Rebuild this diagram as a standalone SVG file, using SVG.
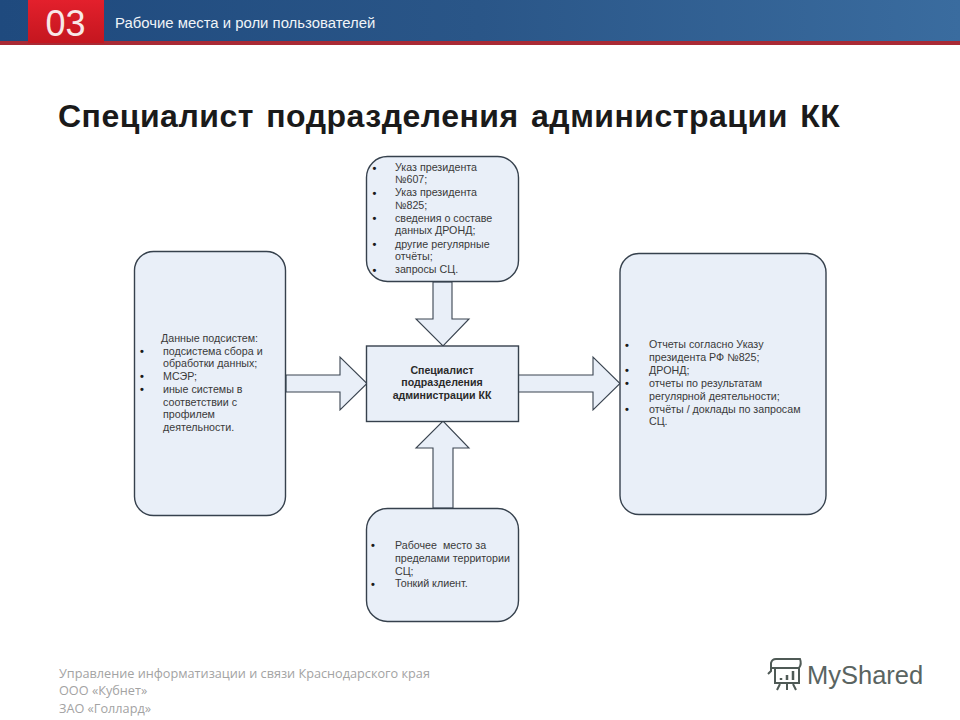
<svg xmlns="http://www.w3.org/2000/svg" width="960" height="720" viewBox="0 0 960 720">
<defs>
<linearGradient id="bar" x1="0" y1="0" x2="1" y2="0"><stop offset="0" stop-color="#1f4a7e"/><stop offset="0.5" stop-color="#2a5688"/><stop offset="1" stop-color="#3a6c9f"/></linearGradient>
<linearGradient id="red" x1="0" y1="0" x2="0" y2="1"><stop offset="0" stop-color="#e3202c"/><stop offset="1" stop-color="#c4161f"/></linearGradient>
</defs>
<style>
.n{fill:#e9eff8;stroke:#36414d;stroke-width:1.4}
.a{fill:#e9eff8;stroke:#3a4450;stroke-width:1.1}
text{font-family:"Liberation Sans",Arial,sans-serif}
.t{font-size:10.7px;fill:#3a3a3a}
.b{font-size:11px;font-weight:bold;fill:#1a1a1a;text-anchor:middle}
.c{font-size:10.6px;font-weight:bold;fill:#2a2a2a;text-anchor:middle}
.f{font-family:"Open Sans",sans-serif;font-size:12.7px;fill:#a3a3a3}
</style>
<rect width="960" height="720" fill="#ffffff"/>
<g id="header">
<rect x="0" y="0" width="960" height="42" fill="url(#bar)"/>
<rect x="0" y="41" width="960" height="4" fill="#a92a35"/>
<rect x="28" y="0" width="76" height="43" fill="url(#red)"/>
<text x="65.500" y="36" font-size="36" fill="#f8e8e8" text-anchor="middle">03</text>
<text x="115" y="28" font-size="14.900" fill="#f0f4f8">Рабочие места и роли пользователей</text>
</g>
<text id="title" x="58" y="127" font-size="32" font-weight="bold" fill="#1a1a1a" word-spacing="3" letter-spacing="0.5">Специалист подразделения администрации КК</text>
<g id="connectors">
<path class="a" d="M433 282H452V319H469L443 346L416 319H433Z"/>
<path class="a" d="M433 508V448H416L443 421L469 448H453V508Z"/>
<path class="a" d="M286 375H340V357L367 383.500L340 410V392H286Z"/>
<path class="a" d="M518 375H593V357L620 383.500L593 410V392H518Z"/>
</g>
<g id="node-top">
<rect class="n" x="366.500" y="156.500" width="152" height="125" rx="21"/>
<text class="b" x="374.500" y="172">•</text><text class="t" x="395" y="170.500">Указ президента</text>
<text class="t" x="395" y="183">№607;</text>
<text class="b" x="374.500" y="197">•</text><text class="t" x="395" y="196">Указ президента</text>
<text class="t" x="395" y="208.500">№825;</text>
<text class="b" x="374.500" y="222">•</text><text class="t" x="395" y="221.500">сведения о составе</text>
<text class="t" x="395" y="234">данных ДРОНД;</text>
<text class="b" x="374.500" y="248">•</text><text class="t" x="395" y="247.500">другие регулярные</text>
<text class="t" x="395" y="260">отчёты;</text>
<text class="b" x="374.500" y="274">•</text><text class="t" x="395" y="273">запросы СЦ.</text>
</g>
<g id="node-left">
<rect class="n" x="134.500" y="251.500" width="151" height="264" rx="19"/>
<text class="t" x="161" y="342">Данные подсистем:</text>
<text class="b" x="142" y="355">•</text><text class="t" x="163" y="354.500">подсистема сбора и</text>
<text class="t" x="163" y="367">обработки данных;</text>
<text class="b" x="142" y="380">•</text><text class="t" x="163" y="380">МСЭР;</text>
<text class="b" x="142" y="393">•</text><text class="t" x="163" y="393">иные системы в</text>
<text class="t" x="163" y="405.500">соответствии с</text>
<text class="t" x="163" y="418">профилем</text>
<text class="t" x="163" y="431">деятельности.</text>
</g>
<g id="node-center">
<rect class="n" x="366.500" y="346" width="152" height="75.500"/>
<text class="c" x="442" y="373.500">Специалист</text>
<text class="c" x="442" y="386">подразделения</text>
<text class="c" x="442" y="399">администрации КК</text>
</g>
<g id="node-right">
<rect class="n" x="620" y="253.500" width="206" height="261" rx="19"/>
<text class="b" x="627" y="349">•</text><text class="t" x="649" y="348">Отчеты согласно Указу</text>
<text class="t" x="649" y="361">президента РФ №825;</text>
<text class="b" x="627" y="374">•</text><text class="t" x="649" y="374">ДРОНД;</text>
<text class="b" x="627" y="386.500">•</text><text class="t" x="649" y="387">отчеты по результатам</text>
<text class="t" x="649" y="400">регулярной деятельности;</text>
<text class="b" x="627" y="413">•</text><text class="t" x="649" y="412.500">отчёты / доклады по запросам</text>
<text class="t" x="649" y="425">СЦ.</text>
</g>
<g id="node-bottom">
<rect class="n" x="366.500" y="508.500" width="152" height="113" rx="21"/>
<text class="b" x="373" y="549">•</text><text class="t" x="395" y="549" xml:space="preserve">Рабочее  место за</text>
<text class="t" x="395" y="562">пределами территории</text>
<text class="t" x="395" y="574.500">СЦ;</text>
<text class="b" x="373" y="588">•</text><text class="t" x="395" y="587">Тонкий клиент.</text>
</g>
<g id="footer">
<text class="f" x="59" y="678">Управление информатизации и связи Краснодарского края</text>
<text class="f" x="59" y="695">ООО «Кубнет»</text>
<text class="f" x="59" y="713">ЗАО «Голлард»</text>
</g>
<g id="logo" fill="none" stroke="#4f5a56" stroke-width="2">
<path d="M768 674L771 671V663Q772 659 776 659H800Q802 664 799 668H772"/>
<rect x="775" y="668" width="24" height="15"/>
<path d="M780 684L777 690M787 684V690M793 684L796 690"/>
<path d="M781 680V678M787 680V675M793 680V671" stroke-width="2.500"/>
<text x="807" y="684" font-family="'Open Sans',sans-serif" font-size="25.500" fill="#5a6461" stroke="none">MyShared</text>
</g>
</svg>
